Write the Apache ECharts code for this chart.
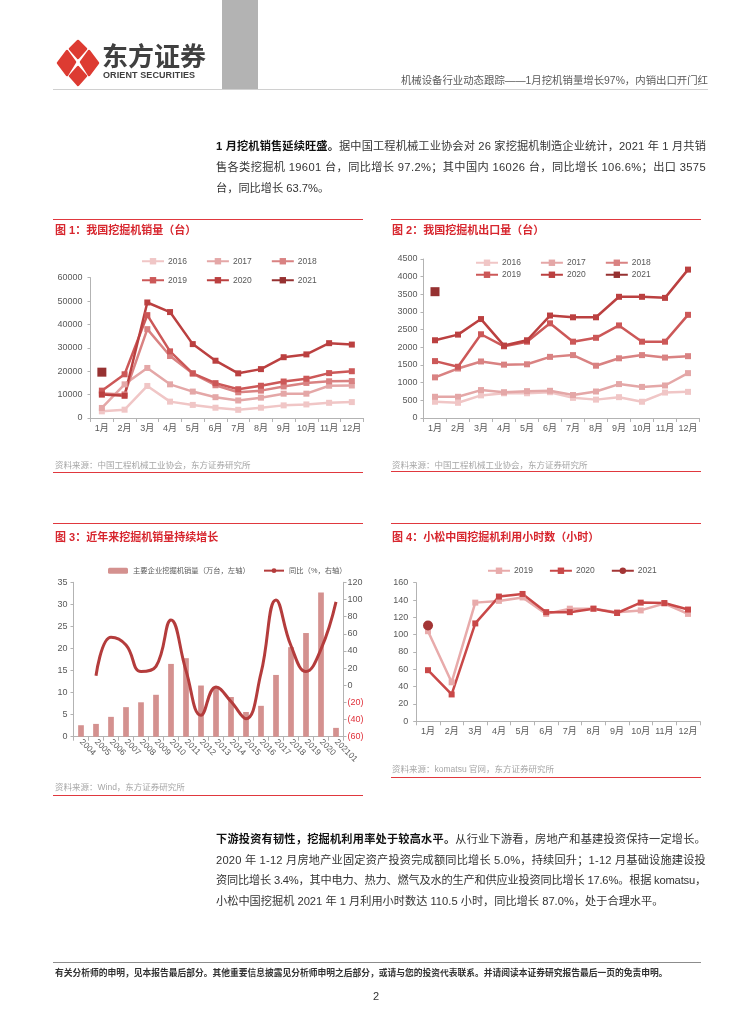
<!DOCTYPE html>
<html lang="zh-CN"><head><meta charset="utf-8">
<script src="https://cdn.jsdelivr.net/npm/echarts@6/dist/echarts.min.js"></script>
<style>
body{margin:0;background:#fff;}
#page{position:relative;width:754px;height:1024px;overflow:hidden;font-family:"Liberation Sans","Noto Sans CJK SC",sans-serif;background:#fff;}
#chart{position:absolute;left:0;top:0;width:754px;height:1024px;}
.t{position:absolute;white-space:nowrap;}
.j{position:absolute;left:216px;font-size:11.2px;color:#333;height:16px;line-height:16px;white-space:nowrap;}
.j b{color:#111;}
.ft{color:#d7262e;font-weight:bold;font-size:11px;height:14px;line-height:14px;}
.src{color:#a6a6a6;font-size:8.5px;height:12px;line-height:12px;}
.rl{position:absolute;height:1px;background:#e0383e;}
</style></head>
<body><div id="page">
<div id="chart"></div>
<svg class="t" style="left:54px;top:38px" width="48" height="50" viewBox="0 0 48 50">
 <g fill="#dd3b32" stroke="#dd3b32" stroke-width="2.5" stroke-linejoin="round">
  <polygon points="24,3 32,11 24,20 16,11"/>
  <polygon points="4,25 13,13 21,24 13,37"/>
  <polygon points="44,25 35,13 27,24 35,37"/>
  <polygon points="24,29 32,38 24,47 16,38"/>
 </g>
</svg>
<div class="t" style="left:102px;top:40px;font-size:26px;line-height:30px;font-weight:bold;color:#404040;font-family:'Noto Sans CJK SC';">东方证券</div>
<div class="t" style="left:103px;top:69px;font-size:9px;line-height:12px;font-weight:bold;color:#404040;letter-spacing:0.1px;">ORIENT SECURITIES</div>
<div class="t" style="left:222px;top:0;width:36px;height:89px;background:#b3b3b3;"></div>
<div class="t" style="left:53px;top:89px;width:655px;height:1px;background:#d0d0d0;"></div>
<div class="t" style="right:46px;top:74px;font-size:10.4px;line-height:14px;color:#5a5a5a;">机械设备行业动态跟踪——1月挖机销量增长97%，内销出口开门红</div>

<div class="j fit" style="top:138px"><b>1 月挖机销售延续旺盛。</b>据中国工程机械工业协会对 26 家挖掘机制造企业统计，2021 年 1 月共销</div>
<div class="j fit" style="top:159px">售各类挖掘机 19601 台，同比增长 97.2%；其中国内 16026 台，同比增长 106.6%；出口 3575</div>
<div class="j" style="top:180px">台，同比增长 63.7%。</div>

<div class="rl" style="left:53px;top:219px;width:310px;"></div>
<div class="rl" style="left:391px;top:219px;width:310px;"></div>
<div class="t ft" style="left:55px;top:223px;">图 1：我国挖掘机销量（台）</div>
<div class="t ft" style="left:392px;top:223px;">图 2：我国挖掘机出口量（台）</div>
<div class="t src" style="left:55px;top:459px;">资料来源：中国工程机械工业协会，东方证券研究所</div>
<div class="t src" style="left:392px;top:459px;">资料来源：中国工程机械工业协会，东方证券研究所</div>
<div class="rl" style="left:53px;top:472px;width:310px;"></div>
<div class="rl" style="left:391px;top:471px;width:310px;"></div>

<div class="rl" style="left:53px;top:523px;width:310px;"></div>
<div class="rl" style="left:391px;top:523px;width:310px;"></div>
<div class="t ft" style="left:55px;top:530px;">图 3：近年来挖掘机销量持续增长</div>
<div class="t ft" style="left:392px;top:530px;">图 4：小松中国挖掘机利用小时数（小时）</div>
<div class="t src" style="left:55px;top:781px;">资料来源：Wind，东方证券研究所</div>
<div class="t src" style="left:392px;top:763px;">资料来源：komatsu 官网，东方证券研究所</div>
<div class="rl" style="left:53px;top:795px;width:310px;"></div>
<div class="rl" style="left:391px;top:777px;width:310px;"></div>

<div class="j fit" style="top:831px"><b>下游投资有韧性，挖掘机利用率处于较高水平。</b>从行业下游看，房地产和基建投资保持一定增长。</div>
<div class="j fit" style="top:852px">2020 年 1-12 月房地产业固定资产投资完成额同比增长 5.0%，持续回升；1-12 月基础设施建设投</div>
<div class="j fit" style="top:872px">资同比增长 3.4%，其中电力、热力、燃气及水的生产和供应业投资同比增长 17.6%。根据 komatsu，</div>
<div class="j" style="top:893px">小松中国挖掘机 2021 年 1 月利用小时数达 110.5 小时，同比增长 87.0%，处于合理水平。</div>

<div class="t" style="left:53px;top:962px;width:648px;height:1px;background:#8c8c8c;"></div>
<div class="t" style="left:55px;top:967px;font-size:8.75px;line-height:12px;font-weight:bold;color:#333;">有关分析师的申明，见本报告最后部分。其他重要信息披露见分析师申明之后部分，或请与您的投资代表联系。并请阅读本证券研究报告最后一页的免责申明。</div>
<div class="t" style="left:373px;top:989px;font-size:11px;line-height:14px;color:#333;">2</div>
</div>
<script>
// justify each full paragraph line to the same width
(function () {
  const W = 490;
  document.querySelectorAll('.j.fit').forEach(el => {
    const r = document.createRange();
    r.selectNodeContents(el);
    const w = r.getBoundingClientRect().width;
    const n = el.textContent.length;
    el.style.letterSpacing = ((W - w) / n) + 'px';
  });
})();

// ---------- data ----------
const months = ['1月','2月','3月','4月','5月','6月','7月','8月','9月','10月','11月','12月'];
const salesYears = ['2016','2017','2018','2019','2020','2021'];
const sales2016 = [2850, 3560, 13700, 7000, 5600, 4400, 3500, 4400, 5400, 5800, 6500, 6800];
const sales2017 = [4300, 14400, 21400, 14400, 11300, 8900, 7500, 8700, 10400, 10400, 13800, 13900];
const sales2018 = [10500, 10100, 38000, 26500, 19000, 14000, 11000, 11700, 13500, 15000, 15700, 15800];
const sales2019 = [11700, 18700, 44000, 28500, 19100, 14900, 12300, 13800, 15600, 16800, 19200, 20000];
const sales2020 = [10000, 9500, 49400, 45300, 31600, 24500, 19100, 20900, 26000, 27200, 32000, 31400];
const sales2021 = [19601, null, null, null, null, null, null, null, null, null, null, null];

const exp2016 = [460, 430, 640, 700, 700, 730, 570, 520, 590, 460, 720, 740];
const exp2017 = [600, 600, 790, 730, 760, 770, 650, 750, 960, 880, 920, 1270];
const exp2018 = [1150, 1400, 1600, 1510, 1520, 1730, 1780, 1480, 1690, 1780, 1710, 1750];
const exp2019 = [1610, 1450, 2370, 2030, 2160, 2680, 2160, 2270, 2620, 2160, 2160, 2920];
const exp2020 = [2200, 2360, 2800, 2050, 2200, 2900, 2850, 2850, 3430, 3430, 3400, 4200];
const exp2021 = [3575, null, null, null, null, null, null, null, null, null, null, null];

const years3 = ['2004','2005','2006','2007','2008','2009','2010','2011','2012','2013','2014','2015','2016','2017','2018','2019','2020','202101'];
const units3 = [2.6, 2.9, 4.5, 6.7, 7.8, 9.5, 16.5, 17.8, 11.6, 11.3, 9.0, 5.6, 7.0, 14.0, 20.3, 23.5, 32.7, 2.0];
const yoy3 = [null, 11, 56, 47, 16, 22, 76, 17, -35, -2, -19, -39, 14, 99.5, 46, 16, 42, 97.2];
const name3bar = '主要企业挖掘机销量（万台，左轴）';
const name3line = '同比（%，右轴）';

const hours2019 = [104, 45, 137, 139, 143, 124, 130, 130, 126, 128, 136, 124];
const hours2020 = [59, 31, 113, 144, 147, 126, 126, 130, 125, 137, 136.5, 129];
const hours2021 = [110.5, null, null, null, null, null, null, null, null, null, null, null];

// ---------- styles ----------
const FONT = 'Liberation Sans, Noto Sans CJK SC, sans-serif';
const AX = '#b3b3b3';
const LBL = '#595959';
const cS = ['#f0c6c6', '#e4a7a7', '#d98282', '#cc5858', '#bb4040', '#963131'];
const cH = ['#e8abab', '#c94848', '#a33535'];

function catAxis(gi, data, extra) {
  return Object.assign({
    type: 'category', gridIndex: gi, data: data, boundaryGap: true,
    axisLine: {show: true, lineStyle: {color: AX, width: 1}},
    axisTick: {show: true, length: 4, lineStyle: {color: AX}},
    axisLabel: {color: LBL, fontSize: 9, fontFamily: FONT, margin: 6, interval: 0},
    splitLine: {show: false}
  }, extra || {});
}
function valAxis(gi, min, max, interval, margin, extra) {
  return Object.assign({
    type: 'value', gridIndex: gi, min: min, max: max, interval: interval,
    axisLine: {show: true, lineStyle: {color: AX, width: 1}},
    axisTick: {show: true, length: 3, lineStyle: {color: AX}},
    axisLabel: {color: LBL, fontSize: 9, fontFamily: FONT, margin: margin, formatter: v => String(v)},
    splitLine: {show: false}
  }, extra || {});
}
function lineS(name, data, color, xi, yi, opts) {
  return Object.assign({
    type: 'line', name: name, data: data, xAxisIndex: xi, yAxisIndex: yi,
    symbol: 'rect', symbolSize: 6, connectNulls: false,
    lineStyle: {color: color, width: 2.5}, itemStyle: {color: color},
    emphasis: {disabled: true}, animation: false
  }, opts || {});
}
function legend(names, left, top, gap, iw) {
  return {
    data: names, left: left, top: top, orient: 'horizontal', itemGap: gap,
    itemWidth: iw || 22, itemHeight: 8, padding: 0, selectedMode: false,
    textStyle: {color: LBL, fontSize: 8.5, fontFamily: FONT, padding: [0, 0, 0, -1]}
  };
}

const salesData = [sales2016, sales2017, sales2018, sales2019, sales2020, sales2021];
const expData = [exp2016, exp2017, exp2018, exp2019, exp2020, exp2021];

const series = [];
salesYears.forEach((y, i) => {
  series.push(lineS(y, salesData[i], cS[i], 0, 0, i === 5 ? {symbolSize: 9} : {}));
});
salesYears.forEach((y, i) => {
  series.push(lineS(y + ' ', expData[i], cS[i], 1, 1, i === 5 ? {symbolSize: 9} : {}));
});
series.push({
  type: 'bar', name: name3bar, data: units3, xAxisIndex: 2, yAxisIndex: 2,
  barWidth: '38%', itemStyle: {color: '#d4918f'}, emphasis: {disabled: true}, animation: false
});
series.push({
  type: 'line', name: name3line, data: yoy3, xAxisIndex: 2, yAxisIndex: 3,
  smooth: 0.45, symbol: 'none', lineStyle: {color: '#b43c3c', width: 3}, itemStyle: {color: '#b43c3c'},
  emphasis: {disabled: true}, animation: false
});
series.push(lineS('2019  ', hours2019, cH[0], 3, 4));
series.push(lineS('2020  ', hours2020, cH[1], 3, 4));
series.push(lineS('2021  ', hours2021, cH[2], 3, 4, {symbol: 'circle', symbolSize: 10}));

const legFmt = n => n.trim();

const option = {
  animation: false,
  textStyle: {fontFamily: FONT},
  grid: [
    {left: 90.5, top: 277.7, width: 272.7, height: 140.3},
    {left: 423.5, top: 259, width: 276, height: 159},
    {left: 73.5, top: 582.3, width: 270, height: 154.4},
    {left: 416.2, top: 582.7, width: 283.6, height: 138.6}
  ],
  xAxis: [
    catAxis(0, months),
    catAxis(1, months),
    catAxis(2, years3, {axisLabel: {color: LBL, fontSize: 8.5, fontFamily: FONT, margin: 4, interval: 0, rotate: -45}}),
    catAxis(3, months)
  ],
  yAxis: [
    valAxis(0, 0, 60000, 10000, 8),
    valAxis(1, 0, 4500, 500, 6),
    valAxis(2, 0, 35, 5, 6),
    valAxis(2, -60, 120, 20, 4, {
      position: 'right',
      axisLabel: {
        color: LBL, fontSize: 9, fontFamily: FONT, margin: 4,
        formatter: v => v < 0 ? '{neg|(' + (-v) + ')}' : String(v),
        rich: {neg: {color: '#e0303a', fontSize: 9, fontFamily: FONT}}
      }
    }),
    valAxis(3, 0, 160, 20, 8)
  ],
  legend: [
    Object.assign(legend(['2016', '2017', '2018'], 141, 257, 19), {formatter: legFmt}),
    Object.assign(legend(['2019', '2020', '2021'], 141, 276, 19), {formatter: legFmt}),
    Object.assign(legend(['2016 ', '2017 ', '2018 '], 475, 258.5, 19), {formatter: legFmt}),
    Object.assign(legend(['2019 ', '2020 ', '2021 '], 475, 270.5, 19), {formatter: legFmt}),
    Object.assign(legend([name3bar], 108, 567, 10, 20), {itemHeight: 6, textStyle: {color: LBL, fontSize: 7.3, fontFamily: FONT}}),
    Object.assign(legend([name3line], 263, 567, 10, 20), {itemHeight: 6, textStyle: {color: LBL, fontSize: 7.3, fontFamily: FONT}}),
    Object.assign(legend(['2019  ', '2020  ', '2021  '], 487, 566.5, 16), {formatter: legFmt})
  ],
  series: series
};
const chart = echarts.init(document.getElementById('chart'), null, {renderer: 'canvas'});
chart.setOption(option);
</script>
</body></html>
